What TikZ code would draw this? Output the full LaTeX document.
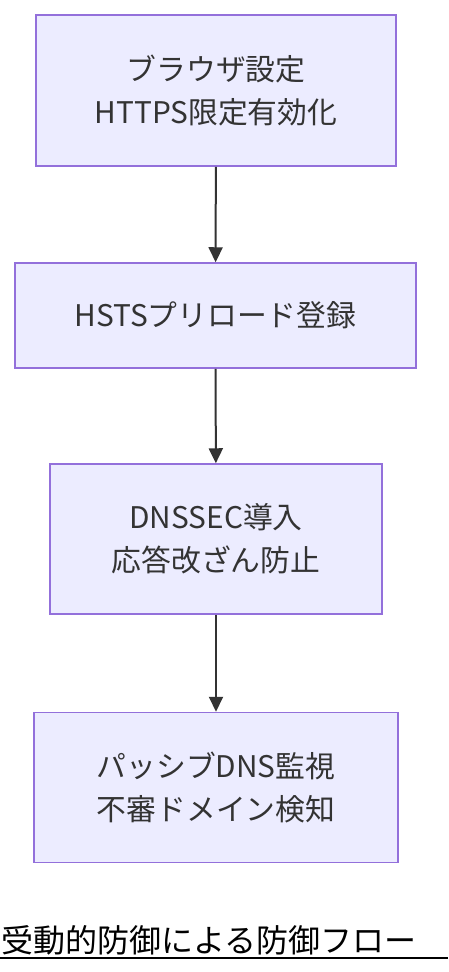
\documentclass[tikz,border=0pt]{standalone}
\usepackage{fontspec}
\setmainfont{Noto Sans CJK JP}
\usetikzlibrary{arrows.meta}
\definecolor{boxfill}{HTML}{ECECFF}
\definecolor{boxline}{HTML}{9370DB}
\definecolor{inkgrey}{HTML}{333333}
\tikzset{
	flowbox/.style={draw=boxline, fill=boxfill, line width=1.5pt, text=inkgrey, align=center, inner sep=0pt, font=\fontsize{29.8}{43}\selectfont},
	flowarrow/.style={draw=inkgrey, line width=2pt, -{Triangle[width=14pt,length=15pt]}}
}

\begin{document}
\begin{tikzpicture}[x=1pt, y=-1pt]
		%%%%% START %%%%%
		
		\useasboundingbox (0, 0) rectangle (448, 972);
		
		\node[flowbox, minimum width=360pt, minimum height=151pt] (browser) at (216, 90.5) {ブラウザ設定\\HTTPS限定有効化};
		\node[flowbox, minimum width=401pt, minimum height=105pt] (hsts) at (215.5, 315.5) {HSTSプリロード登録};
		\node[flowbox, minimum width=332pt, minimum height=150pt] (dnssec) at (216, 539) {DNSSEC導入\\応答改ざん防止};
		\node[flowbox, minimum width=364pt, minimum height=150pt] (pdns) at (216, 787.5) {パッシブDNS監視\\不審ドメイン検知};
		
		\draw[flowarrow] (browser) -- (hsts);
		\draw[flowarrow] (hsts) -- (dnssec);
		\draw[flowarrow] (dnssec) -- (pdns);
		
		\node[anchor=west, inner sep=0pt, text=black, font=\fontsize{32}{36}\selectfont] (title) at (1, 940) {受動的防御による防御フロー};
		\coordinate (ruleleft) at (0, 957.5);
		\coordinate (ruleright) at (448, 957.5);
		\draw[line width=2pt] (ruleleft) -- (ruleright);
		
		%%%%% END %%%%%
	\end{tikzpicture}
\end{document}
